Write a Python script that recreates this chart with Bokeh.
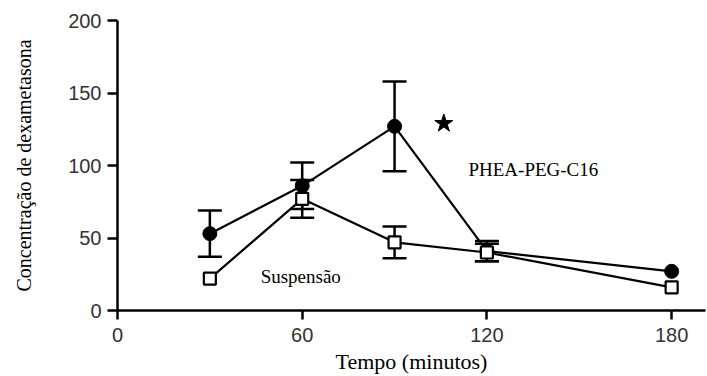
from bokeh.plotting import figure
from bokeh.models import ColumnDataSource, Whisker, TeeHead, Range1d, FixedTicker, Label
from bokeh.embed import file_html
from bokeh.resources import INLINE

# Data
tempo = [30, 60, 90, 120, 180]
phea = [53, 86, 127, 41, 27]
phea_err = [16, 16, 31, 7, 0]
susp = [22, 77, 47, 40, 16]
susp_err = [0, 13, 11, 6, 0]
x_ticks = [0, 60, 120, 180]
y_ticks = [0, 50, 100, 150, 200]
star_pos = (106, 129)
x_title = "Tempo (minutos)"
y_title = "Concentração de dexametasona"

p = figure(width=707, height=376, output_backend="svg", toolbar_location=None,
           x_range=Range1d(0, 191), y_range=Range1d(0, 200),
           min_border_left=117, min_border_right=2, min_border_top=20, min_border_bottom=65)
p.outline_line_color = None
p.grid.visible = False
p.background_fill_color = "white"
p.border_fill_color = "white"

for ax in (p.xaxis[0], p.yaxis[0]):
    ax.axis_line_width = 2.5
    ax.axis_line_color = "black"
    ax.major_tick_line_width = 2.5
    ax.major_tick_line_color = "black"
    ax.major_tick_in = 0
    ax.minor_tick_line_color = None
    ax.major_label_text_font = "Liberation Sans"
    ax.major_label_text_font_size = "20px"
    ax.major_label_text_color = "#333333"
    ax.axis_label_text_font = "Liberation Serif"
    ax.axis_label_text_font_style = "normal"
    ax.axis_label_text_color = "black"

p.xaxis.ticker = FixedTicker(ticks=x_ticks)
p.yaxis.ticker = FixedTicker(ticks=y_ticks)
p.xaxis.major_tick_out = 9
p.yaxis.major_tick_out = 10
p.xaxis.major_label_standoff = 8
p.yaxis.major_label_standoff = 6
p.xaxis.axis_label = x_title
p.yaxis.axis_label = y_title
p.xaxis.axis_label_text_font_size = "22px"
p.yaxis.axis_label_text_font_size = "20px"
p.xaxis.axis_label_standoff = 4
p.yaxis.axis_label_standoff = 30


def err_source(vals, errs):
    xs = [t for t, e in zip(tempo, errs) if e > 0]
    lo = [v - e for v, e in zip(vals, errs) if e > 0]
    hi = [v + e for v, e in zip(vals, errs) if e > 0]
    return ColumnDataSource(dict(x=xs, lo=lo, hi=hi))


for src in (err_source(phea, phea_err), err_source(susp, susp_err)):
    w = Whisker(source=src, base="x", lower="lo", upper="hi",
                line_width=2.5, line_color="black",
                lower_head=TeeHead(size=24, line_width=2.5, line_color="black"),
                upper_head=TeeHead(size=24, line_width=2.5, line_color="black"))
    p.add_layout(w)

src_p = ColumnDataSource(dict(x=tempo, y=phea))
src_s = ColumnDataSource(dict(x=tempo, y=susp))
p.line("x", "y", source=src_p, line_width=2.2, line_color="black")
p.line("x", "y", source=src_s, line_width=2.2, line_color="black")
p.scatter("x", "y", source=src_p, marker="circle", size=14,
          fill_color="black", line_color="black")
p.scatter("x", "y", source=src_s, marker="square", size=12,
          fill_color="white", line_color="black", line_width=2.2)

p.scatter([star_pos[0]], [star_pos[1]], marker="star", size=19,
          fill_color="black", line_color="black")

p.add_layout(Label(x=114, y=97.5, text="PHEA-PEG-C16", text_font="Liberation Serif",
                   text_font_size="19px", text_baseline="middle", text_color="black"))
p.add_layout(Label(x=46.5, y=23.5, text="Suspensão", text_font="Liberation Serif",
                   text_font_size="19px", text_baseline="middle", text_color="black"))

open("out.html", "w").write(file_html(p, INLINE))
